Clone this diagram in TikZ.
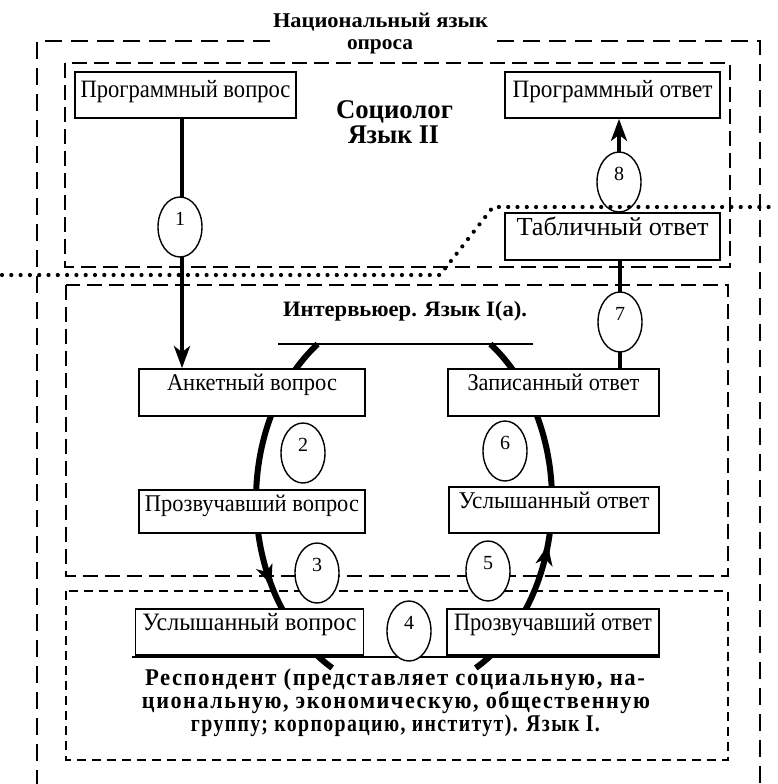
\documentclass[tikz,border=0pt]{standalone}
\usepackage{fontspec}
\setmainfont{Liberation Serif}
\newfontfamily\spacedfont[LetterSpace=7]{Liberation Serif}
\usepackage{graphicx}
\usetikzlibrary{shapes.geometric,arrows.meta}
\newcommand\fw[2]{\resizebox{#1}{\height}{#2}}
\tikzset{
 box/.style={draw, line width=1.7pt, fill=white, inner sep=0pt, rectangle},
 num/.style={draw, ellipse, line width=1.4pt, fill=white, inner sep=0pt, minimum width=44pt, minimum height=60pt, text height=13pt, text depth=16pt, font=\fontsize{20}{20}\selectfont},
 frameA/.style={line width=2.7pt, dash pattern=on 17pt off 9pt},
 frameB/.style={line width=2.7pt, dash pattern=on 15pt off 7pt},
 frameC/.style={line width=2.7pt, dash pattern=on 9pt off 6pt},
 conn/.style={line width=4.5pt},
 arr/.style={line width=4.5pt, -{Stealth[length=22pt, width=16pt, inset=6pt]}},
 loopline/.style={line width=6pt},
 looparr/.style={line width=6pt, -{Stealth[length=20pt, width=17pt, inset=6pt]}},
 dots/.style={line width=4.2pt, line cap=round, dash pattern=on 0pt off 9.3pt},
 boldtxt/.style={font=\bfseries\fontsize{#1}{#1}\selectfont, inner sep=0pt, anchor=base},
 resptxt/.style={font=\spacedfont\bfseries\fontsize{24}{24}\selectfont, inner sep=0pt, anchor=base},
}
\begin{document}
\begin{tikzpicture}[x=1pt,y=-1pt]
\useasboundingbox (0,0) rectangle (777,784);
% frames
\draw[frameA] (270,41) -- (37,41) -- (37,784);
\draw[frameA] (497,41) -- (760,41) -- (760,784);
\draw[frameB] (65,63) rectangle (730,267);
\draw[frameB] (66,285) rectangle (728,576);
\draw[frameC] (66,591) rectangle (728,760);
% loop
\draw[looparr] plot[domain=234.3:153.7, samples=60] ({404+148*cos(\x)},{500+192*sin(\x)});
\draw[loopline] plot[domain=156:119, samples=30] ({404+148*cos(\x)},{500+192*sin(\x)});
\draw[looparr] plot[domain=61:13.6, samples=40] ({404+148*cos(\x)},{500+192*sin(\x)});
\draw[loopline] plot[domain=16:-54.3, samples=60] ({404+148*cos(\x)},{500+192*sin(\x)});
% boxes
\node[box, minimum width=221pt, minimum height=46pt, text height=25pt, text depth=21pt, font=\fontsize{25}{26}\selectfont] (pq) at (185.5,95) {\fw{210pt}{Программный вопрос}};
\node[box, minimum width=215pt, minimum height=46pt, text height=25pt, text depth=21pt, font=\fontsize{25}{26}\selectfont] (po) at (612.5,95) {\fw{200pt}{Программный ответ}};
\node[box, minimum width=215pt, minimum height=47pt, text height=22pt, text depth=25pt, font=\fontsize{26}{26}\selectfont] (tab) at (612.5,236.5) {\fw{192pt}{Табличный ответ}};
\node[box, minimum width=226pt, minimum height=47pt, text height=21pt, text depth=26pt, font=\fontsize{24}{26}\selectfont] (aq) at (252,392.5) {\fw{170pt}{Анкетный вопрос}};
\node[box, minimum width=211pt, minimum height=47pt, text height=21pt, text depth=26pt, font=\fontsize{24}{26}\selectfont] (zap) at (553.5,392.5) {\fw{172pt}{Записанный ответ}};
\node[box, minimum width=226pt, minimum height=43pt, text height=21pt, text depth=22pt, font=\fontsize{24}{26}\selectfont] (prv) at (252,511.5) {\fw{214pt}{Прозвучавший вопрос}};
\node[box, minimum width=210pt, minimum height=46pt, text height=21pt, text depth=25pt, font=\fontsize{24}{26}\selectfont] (uo) at (554,510) {\fw{191pt}{Услышанный ответ}};
\node[box, minimum width=228pt, minimum height=46pt, text height=21pt, text depth=25pt, font=\fontsize{25}{26}\selectfont] (uv) at (249.5,632) {\fw{214pt}{Услышанный вопрос}};
\node[box, minimum width=212pt, minimum height=46pt, text height=21pt, text depth=25pt, font=\fontsize{25}{26}\selectfont] (pro) at (553,632) {\fw{198pt}{Прозвучавший ответ}};
\draw[line width=2pt] (278,344) -- (533,344);
\draw[line width=2.7pt] (132,657) -- (660,657);
% connectors
\draw[arr] ([xshift=-3.5pt]pq.south) -- ([xshift=-3.5pt]pq.south |- aq.north);
\draw[arr] ([xshift=6.5pt]tab.north) -- ([xshift=6.5pt]tab.north |- po.south);
\draw[conn] ([xshift=66.5pt]zap.north) -- ([xshift=66.5pt]zap.north |- tab.south);
% numbers
\node[num] (n1) at (180,227) {1};
\node[num] (n8) at (619,182) {8};
\node[num] (n7) at (620,322) {7};
\node[num] (n2) at (303,453) {2};
\node[num] (n6) at (505,451) {6};
\node[num] (n3) at (317,573) {3};
\node[num] (n5) at (488,571) {5};
\node[num] (n4) at (409,631) {4};
% dotted border
\draw[dots] (2,275) -- (440,275) -- (493,207) -- (777,207);
% texts
\node[boldtxt=21] (t1) at (380.5,28) {\fw{215pt}{Национальный язык}};
\node[boldtxt=21] (t2) at (380,49) {\fw{66pt}{опроса}};
\node[boldtxt=27] (s1) at (394.5,118) {\fw{117pt}{Социолог}};
\node[boldtxt=27] (s2) at (393.5,143) {\fw{91pt}{Язык II}};
\node[boldtxt=22] (i1) at (405,316) {\fw{244pt}{Интервьюер. Язык I(а).}};
\node[resptxt] (r1) at (395,685) {\fw{500pt}{Респондент (представляет социальную, на-}};
\node[resptxt] (r2) at (396,708) {\fw{508pt}{циональную, экономическую, общественную}};
\node[resptxt] (r3) at (395.5,731) {\fw{409pt}{группу; корпорацию, институт). Язык I.}};
\end{tikzpicture}
\end{document}
